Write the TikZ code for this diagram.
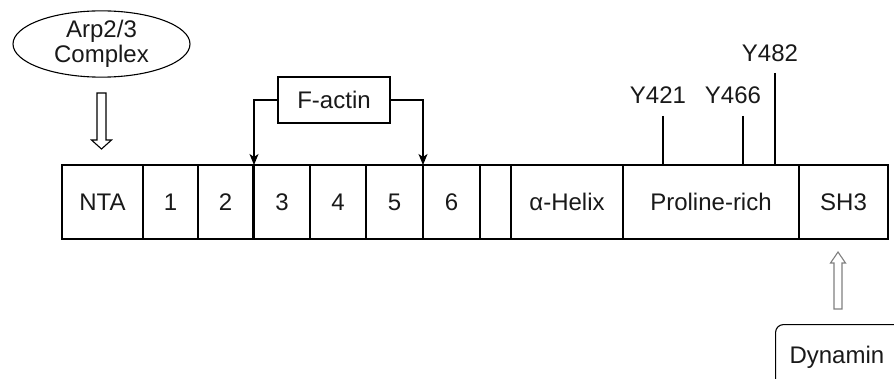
\documentclass[tikz,border=0pt]{standalone}
\usepackage{fontspec}
\setmainfont{Liberation Sans}
\usetikzlibrary{shapes.geometric,arrows.meta,calc}
\tikzset{
  txt/.style={font=\fontsize{24}{24.5}\selectfont, text=black!90},
  seg/.style={txt, draw, line width=1.1pt, minimum height=74pt, inner sep=0pt, outer sep=0pt, anchor=north west},
  plain/.style={draw, line width=1.1pt},
  tip/.style={-{Stealth[length=11pt,width=9pt,inset=3pt]}},
  hollow/.style={draw, line width=1.1pt, fill=white, line join=miter},
}
\begin{document}
\begin{tikzpicture}[x=1pt,y=-1pt]
\useasboundingbox (0,0) rectangle (894,379);
\clip (0,0) rectangle (894,379);

% domain bar
\node[seg, minimum width=81pt]  (nta) at (62,165)  {NTA};
\node[seg, minimum width=55pt]  (d1)  at (143,165) {1};
\node[seg, minimum width=55pt]  (d2)  at (198,165) {2};
\node[seg, minimum width=56pt]  (d3)  at (254,165) {3};
\node[seg, minimum width=56pt]  (d4)  at (310,165) {4};
\node[seg, minimum width=57pt]  (d5)  at (366,165) {5};
\node[seg, minimum width=57pt]  (d6)  at (423,165) {6};
\node[seg, minimum width=31pt]  (gap) at (480,165) {};
\node[seg, minimum width=112pt] (hel) at (511,165) {α-Helix};
\node[seg, minimum width=176pt] (pro) at (623,165) {Proline-rich};
\node[seg, minimum width=89pt]  (sh3) at (799,165) {SH3};

% Arp2/3 complex binding the NTA region
\node[txt, ellipse, draw, line width=1.1pt, minimum width=177pt, minimum height=64pt, inner sep=0pt, align=center]
  (arp) at (101.5,44) {Arp2/3\\Complex};
\draw[hollow] (97,93) -- (106,93) -- (106,140) -- (111.5,140) -- (101.5,149)
  -- (91.5,140) -- (97,140) -- cycle;

% F-actin binding repeats 3 and 6
\node[txt, draw, line width=1.1pt, minimum width=112pt, minimum height=46pt, inner sep=0pt] (fact) at (334,100) {F-actin};
\draw[plain, tip] (fact.west) -| (d3.north west);
\draw[plain, tip] (fact.east) -| (d6.north west);

% tyrosine phosphorylation sites
\node[txt] (y421) at (658,95) {Y421};
\node[txt] (y466) at (733,95) {Y466};
\node[txt] (y482) at (770,53.5) {Y482};
\coordinate (s421) at (663,116);
\coordinate (s466) at (743,116);
\coordinate (s482) at (775,73);
\draw[plain] (s421) -- (s421 |- pro.north);
\draw[plain] (s466) -- (s466 |- pro.north);
\draw[plain] (s482) -- (s482 |- pro.north);

% Dynamin binding the SH3 domain
\node[draw, line width=1.1pt, rounded corners=8pt, minimum width=130pt, minimum height=66pt,
  anchor=north west] (dyn) at (775,324) {};
\node[txt, anchor=west] (dyntxt) at (786,357) {Dynamin};
\draw[hollow, draw=gray] (834,309) -- (842,309) -- (842,263) -- (845.5,263) -- (838,252)
  -- (830.5,263) -- (834,263) -- cycle;
\end{tikzpicture}
\end{document}
